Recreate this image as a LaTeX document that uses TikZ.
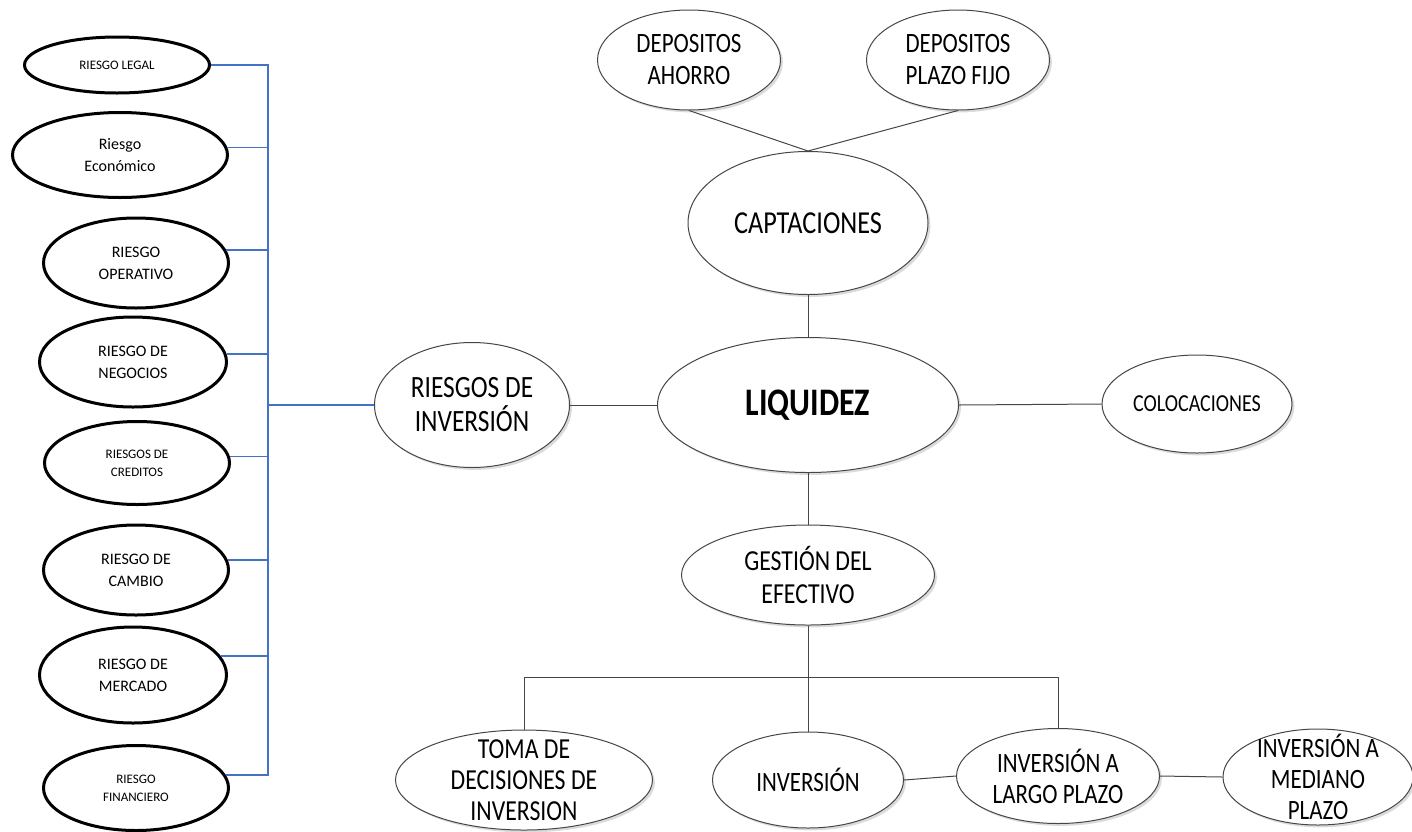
\documentclass[tikz,border=0pt]{standalone}
\usepackage{fontspec}
\setmainfont{Carlito}
\newfontfamily\narrowfont{Carlito}[FakeStretch=0.82]
\usepackage{tikz}
\usetikzlibrary{shapes.geometric, shadows}
\definecolor{riskblue}{RGB}{68,114,196}
\definecolor{edgegray}{RGB}{70,70,70}
\newcommand{\riskfont}{\fontsize{8}{11}\selectfont}
\newcommand{\tinyrisk}{\fontsize{6.5}{9}\selectfont}

\begin{document}
\begin{tikzpicture}[x=0.5pt, y=-0.5pt]
    \tikzstyle{bubble} = [ellipse, draw=edgegray, line width=0.5pt, fill=white, inner sep=0pt, align=center, font=\narrowfont\fontsize{14}{16}\selectfont, drop shadow={shadow xshift=1.2pt, shadow yshift=-1.2pt, opacity=0.35, fill=black!40}]
    \tikzstyle{risk} = [ellipse, draw=black, line width=1.5pt, fill=white, inner sep=0pt, align=center, minimum width=92.5pt, minimum height=45pt, font=\riskfont]
    \tikzstyle{link} = [draw=edgegray, line width=0.5pt]
    \tikzstyle{brk} = [draw=riskblue, line width=0.9pt]

    \useasboundingbox (0,0) rectangle (1412,831);

    % risk column
    \node (legal) [risk, minimum height=28pt, font=\tinyrisk]   at (117,65)  {RIESGO LEGAL};
    \node (econ)  [risk, minimum width=107.5pt, minimum height=42.5pt] at (120,155) {Riesgo\\Económico};
    \node (oper)  [risk]                                        at (136,263) {RIESGO\\OPERATIVO};
    \node (neg)   [risk, minimum width=93.5pt]                  at (133,362) {RIESGO DE\\NEGOCIOS};
    \node (cred)  [risk, minimum height=41.5pt, font=\tinyrisk] at (137,463) {RIESGOS DE\\CREDITOS};
    \node (cam)   [risk]                                        at (136,570) {RIESGO DE\\CAMBIO};
    \node (mer)   [risk, minimum width=93.5pt, minimum height=48pt] at (133,675) {RIESGO DE\\MERCADO};
    \node (fin)   [risk, minimum height=42.5pt, font=\tinyrisk] at (136,788) {RIESGO\\FINANCIERO};

    % central map
    \node (ahorro) [bubble, minimum width=91.5pt, minimum height=50pt] at (689,60)  {DEPOSITOS\\AHORRO};
    \node (plazo)  [bubble, minimum width=91.5pt, minimum height=50pt] at (958,60)  {DEPOSITOS\\PLAZO FIJO};
    \node (capt)   [bubble, minimum width=120pt, minimum height=71.5pt, font=\narrowfont\fontsize{16}{18}\selectfont] at (808,223) {CAPTACIONES};
    \node (liq)    [bubble, minimum width=150.5pt, minimum height=67.5pt, font=\narrowfont\bfseries\fontsize{19.5}{22}\selectfont] at (808,405) {LIQUIDEZ};
    \node (ries)   [bubble, minimum width=97.5pt, minimum height=62.5pt, font=\narrowfont\fontsize{15.5}{17}\selectfont] at (472,405) {RIESGOS DE\\INVERSIÓN};
    \node (col)    [bubble, minimum width=95pt, minimum height=49pt, font=\narrowfont\fontsize{12.2}{14}\selectfont] at (1197,404) {COLOCACIONES};
    \node (gest)   [bubble, minimum width=126.5pt, minimum height=50pt, font=\narrowfont\fontsize{14.5}{16.5}\selectfont] at (808,575) {GESTIÓN DEL\\EFECTIVO};
    \node (toma)   [bubble, minimum width=128.5pt, minimum height=50pt, inner ysep=-8pt, font=\narrowfont\fontsize{14.5}{15.5}\selectfont] at (524,780) {TOMA DE\\DECISIONES DE\\INVERSION};
    \node (inv)    [bubble, minimum width=95.5pt, minimum height=48pt] at (808,780) {INVERSIÓN};
    \node (largo)  [bubble, minimum width=101.5pt, minimum height=47.5pt, font=\narrowfont\fontsize{14}{15.5}\selectfont] at (1058,776) {INVERSIÓN A\\LARGO PLAZO};
    \node (med)    [bubble, minimum width=95pt, minimum height=48pt, inner ysep=-8pt, font=\narrowfont\fontsize{14}{15.5}\selectfont] at (1318,777) {INVERSIÓN A\\MEDIANO\\PLAZO};

    \coordinate (bk)  at (268,400);
    \coordinate (bar) at (808,677);

    % blue bracket
    \draw [brk] (legal.east) -- (legal.east -| bk) -- (fin.8 -| bk) -- (fin.8);
    \foreach \n/\a in {econ/4, oper/8, neg/5, cred/4, cam/6, mer/12}
        \draw [brk] (\n.\a) -- (\n.\a -| bk);
    \draw [brk] (ries.west) -- (ries.west -| bk);

    \draw [link] (ahorro.south) -- (capt.north);
    \draw [link] (plazo.south) -- (capt.north);
    \draw [link] (capt.south) -- (liq.north);
    \draw [link] (ries.east) -- (liq.west);
    \draw [link] (liq.east) -- (col.west);
    \draw [link] (liq.south) -- (gest.north);
    \draw [link] (gest.south) -- (inv.north);
    \draw [link] (toma.north) |- (bar) -| (largo.north);
    \draw [link] (inv.east) -- (largo.west);
    \draw [link] (largo.east) -- (med.west);
\end{tikzpicture}
\end{document}
